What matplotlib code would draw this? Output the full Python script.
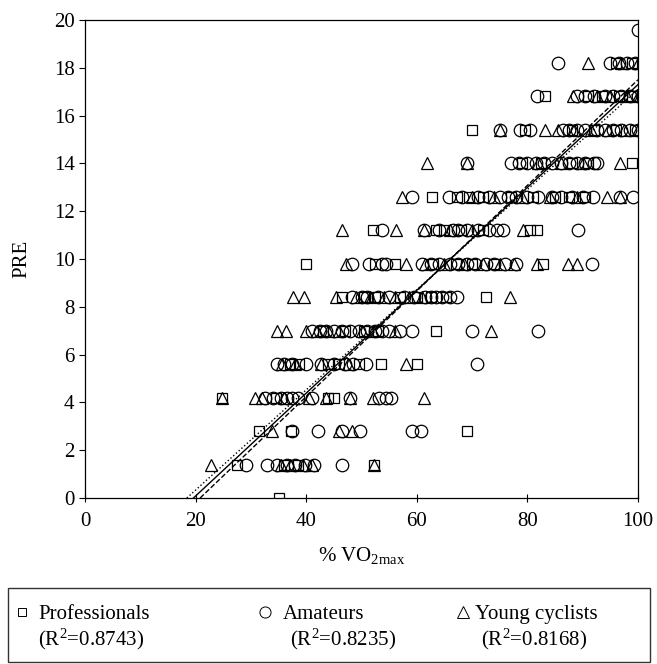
import matplotlib
matplotlib.use("Agg")
import matplotlib.pyplot as plt
from matplotlib.lines import Line2D
from matplotlib.patches import Rectangle
import numpy as np

plt.rcParams['font.family'] = ['Liberation Serif', 'DejaVu Serif']
plt.rcParams['mathtext.fontset'] = 'custom'
plt.rcParams['mathtext.rm'] = 'Liberation Serif'
plt.rcParams['mathtext.it'] = 'Liberation Serif:italic'

# PRE levels are 1.4 apart; x values
pro_x = [35,
         27.4, 36, 38.5, 52.3,
         31.4, 37.2, 69.0,
         24.7, 34.5, 44, 45,
         37, 38.7, 44, 46, 49.5, 53.5, 60.1,
         43, 47, 50.5, 53, 63.5,
         46.5, 50.5, 52.5, 57, 60, 62.5, 65.3, 72.6,
         39.9, 52.5, 56, 63, 67, 70, 74, 82.8,
         52, 63.5, 65, 68, 72, 80.5, 81.7,
         62.8, 67.3, 69.5, 72, 77, 81, 85, 87.5, 90.5,
         79, 82.5, 88, 91, 98.9,
         69.9, 79.5, 88, 92, 96, 99.5,
         83.1, 91, 93.5, 96.5, 99,
         96, 99]
pro_y = [0] + [1.4] * 4 + [2.8] * 3 + [4.2] * 4 + [5.6] * 7 + [7.0] * 5 \
    + [8.4] * 8 + [9.8] * 8 + [11.2] * 7 + [12.6] * 9 + [14.0] * 5 \
    + [15.4] * 6 + [16.8] * 5 + [18.2] * 2

ama_x = [29.2, 32.9, 34.8, 36.5, 38, 39.8, 41.5, 46.5,
         37.5, 42.1, 46.5, 49.8, 59.2, 60.8,
         32.5, 34, 35.5, 36.5, 37.5, 38.5, 41, 48, 53.2, 54.4, 55.4,
         34.7, 36, 37.5, 40, 42.6, 45, 47, 48.5, 50.8, 70.8,
         41, 42.5, 43.5, 45, 46.5, 48, 49.5, 51, 52.5, 53.7, 55, 57, 59.2, 69.9, 81.9,
         48.3, 50, 51, 53, 55, 57.7, 59.5, 61.5, 62.5, 63.5, 64.5, 66, 67.2,
         48.3, 51.4, 53.7, 54.4, 61, 62.5, 64, 66, 67.5, 69, 70.5, 72.5, 74, 76, 78, 91.6,
         53.7, 61.3, 64, 66.5, 67.5, 69, 71, 73, 74.5, 75.5, 89.1,
         59.2, 65.9, 68.2, 71, 73, 75, 76.5, 78, 80, 82, 84.5, 86, 88, 90, 91.8, 96.7, 99.1,
         69, 77.1, 78.5, 80, 81.5, 83, 84.5, 86, 87.5, 89, 90.5, 92, 92.6,
         75, 78.6, 80.4, 86.4, 87.5, 89, 90.5, 92.5, 94, 95.5, 97, 98.5, 100,
         81.7, 89, 90.5, 92, 94, 95.5, 97, 98.5, 100,
         85.5, 95, 96.5, 98, 99.5,
         100]
ama_y = [1.4] * 8 + [2.8] * 6 + [4.2] * 11 + [5.6] * 10 + [7.0] * 15 \
    + [8.4] * 13 + [9.8] * 16 + [11.2] * 11 + [12.6] * 17 + [14.0] * 13 \
    + [15.4] * 13 + [16.8] * 9 + [18.2] * 5 + [19.6]

young_x = [22.7, 35.5, 37, 39.5, 41, 52.3,
           33.8, 45.9, 48.3,
           24.7, 30.8, 32, 36, 40.5, 43.5, 48, 52, 61.3,
           35.6, 38, 42.6, 47.5, 58,
           34.7, 36.3, 39.9, 42, 44, 46, 50, 52, 56, 73.5,
           37.7, 39.6, 45.4, 49, 51.5, 54, 56, 58.5, 61, 76.8,
           47.2, 58, 61.5, 65, 68.5, 72, 75, 77.5, 81.7, 87.3, 88.9,
           46.5, 56.3, 61.3, 66, 70, 79.2,
           57.4, 70, 74, 79, 84, 89, 94.4, 96.7,
           61.9, 69, 82, 86, 90, 96.7,
           75, 83.1, 85.5, 88.5, 91.5, 94.5, 97.5, 100,
           88.2, 92.5, 95, 98, 100,
           90.9, 97, 100]
young_y = [1.4] * 6 + [2.8] * 3 + [4.2] * 9 + [5.6] * 5 + [7.0] * 10 \
    + [8.4] * 10 + [9.8] * 11 + [11.2] * 6 + [12.6] * 8 + [14.0] * 6 \
    + [15.4] * 8 + [16.8] * 5 + [18.2] * 3

# regression lines (slope, intercept)
fit_slope = [0.2152, 0.2210, 0.2096]
fit_intercept = [-4.22, -4.60, -3.86]
fit_style = ['-', '--', ':']

legend_names = ['Professionals', 'Amateurs', 'Young cyclists']
legend_r2 = ['0.8743', '0.8235', '0.8168']

fig = plt.figure(figsize=(6.57, 6.64), dpi=100)
ax = fig.add_axes([85 / 657, 1 - 498 / 664, 553 / 657, 478 / 664])

ax.plot(pro_x, pro_y, 's', ms=6.5, mfc='none', mec='black', mew=0.9)
ax.plot(ama_x, ama_y, 'o', ms=9, mfc='none', mec='black', mew=0.9)
ax.plot(young_x, young_y, '^', ms=8, mfc='none', mec='black', mew=0.9)

for m, b, ls in zip(fit_slope, fit_intercept, fit_style):
    xs = np.array([-b / m, 100])
    ax.plot(xs, m * xs + b, ls, color='black', lw=1)

ax.set_xlim(0, 100)
ax.set_ylim(0, 20)
ax.set_xticks(np.arange(0, 101, 20))
ax.set_yticks(np.arange(0, 21, 2))
ax.tick_params(labelsize=15, direction='out', length=4, width=0.8)
ax.tick_params(axis='x', direction='inout', length=6, pad=7)
for s in ax.spines.values():
    s.set_linewidth(0.9)

ax.set_ylabel('PRE', fontsize=15, labelpad=16)
ax.set_xlabel(r'$\mathit{\%}$ VO$_{\mathregular{2max}}$', fontsize=15,
              labelpad=10)

# legend box below the axes
fig.add_artist(Rectangle((8 / 657, 2 / 664), 642 / 657, 74 / 664,
                         transform=fig.transFigure, fill=False,
                         edgecolor='#333333', lw=1))
mk_x = [22, 265, 463]
txt_x = [38, 283, 475]
txt2_x = [38, 290, 481]
markers = ['s', 'o', '^']
msz = [6, 8, 9]
for i in range(3):
    fig.add_artist(Line2D([mk_x[i] / 657], [1 - 612 / 664], marker=markers[i],
                          ms=msz[i], mfc='none', mec='black', mew=0.7,
                          transform=fig.transFigure))
    fig.text(txt_x[i] / 657, 1 - 619 / 664, legend_names[i], fontsize=15,
             va='baseline')
    fig.text(txt2_x[i] / 657, 1 - 645 / 664,
             r'(R$^{\mathregular{2}}$=' + legend_r2[i] + ')', fontsize=15,
             va='baseline')

fig.savefig('out.png', dpi=100)
